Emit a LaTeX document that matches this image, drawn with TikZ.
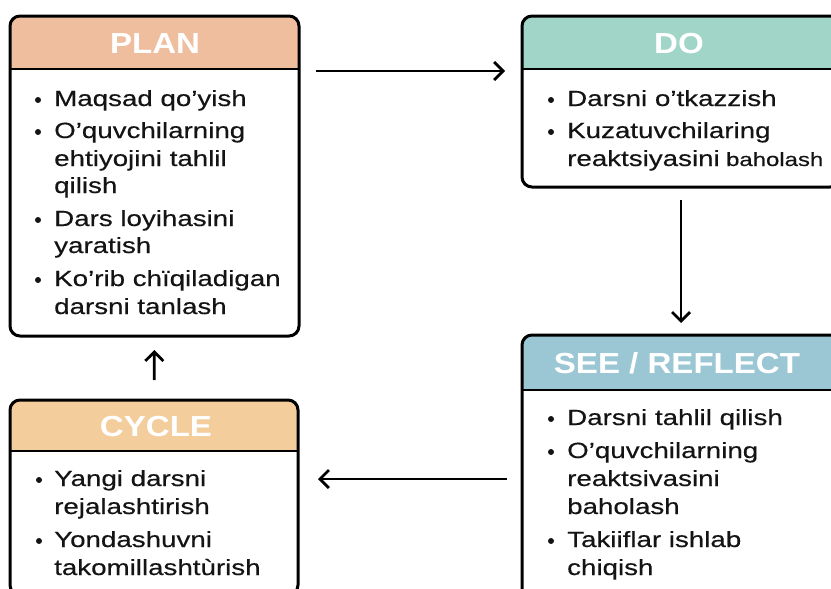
\documentclass[tikz,border=0pt]{standalone}
\usepackage{fontspec}
\setmainfont{Liberation Sans}
\newfontfamily\bodyfont[FakeStretch=1.26,FakeBold=0.4]{Liberation Sans}
\newfontfamily\headfont[FakeStretch=1.14]{Liberation Sans}
\usetikzlibrary{arrows.meta}
\definecolor{planc}{RGB}{239,190,158}
\definecolor{doc}{RGB}{160,213,199}
\definecolor{seec}{RGB}{155,199,213}
\definecolor{cyclec}{RGB}{243,205,156}
\definecolor{inkc}{RGB}{20,20,20}
\tikzset{
  boxst/.style={rectangle, inner sep=0pt, outer sep=0pt, anchor=north west},
  frame/.style={draw=black, line width=3pt, rounded corners=10pt},
  divline/.style={draw=black, line width=2.8pt},
  headtxt/.style={font=\headfont\bfseries\fontsize{29}{29}\selectfont, text=white, anchor=base, inner sep=0pt},
  itemtxt/.style={font=\bodyfont\fontsize{22}{24}\selectfont, text=inkc, anchor=base west, inner sep=0pt},
  smalltxt/.style={font=\bodyfont\fontsize{19}{22}\selectfont, text=inkc, anchor=base west, inner sep=0pt},
  bul/.style={fill=inkc},
  arr/.style={draw=black, line width=2.8pt, -{Straight Barb[length=9pt,width=18pt]}}
}
\begin{document}
\begin{tikzpicture}[x=1pt,y=-1pt]
\useasboundingbox (0,0) rectangle (831,589);
\fill[white] (0,0) rectangle (831,589);
\clip (0,0) rectangle (831,589);

% ---------- PLAN ----------
\node[boxst, minimum width=289pt, minimum height=320pt] (plan) at (10,16) {};
\begin{scope}
  \clip[rounded corners=10pt] (plan.north west) rectangle (plan.south east);
  \fill[planc] (plan.north west) rectangle (plan.east |- 0,69);
\end{scope}
\draw[divline] (plan.west |- 0,69) -- (plan.east |- 0,69);
\draw[frame] (plan.north west) rectangle (plan.south east);
\node[headtxt] (planh) at (155,53) {PLAN};
\fill[bul] (38,100) circle (3pt);
\node[itemtxt] (p1) at (54,106) {Maqsad qo’yish};
\fill[bul] (38,132) circle (3pt);
\node[itemtxt] (p2) at (54,138) {O’quvchilarning};
\node[itemtxt] (p3) at (54,166) {ehtiyojini tahlil};
\node[itemtxt] (p4) at (54,193) {qilish};
\fill[bul] (38,220) circle (3pt);
\node[itemtxt] (p5) at (54,226) {Dars loyihasini};
\node[itemtxt] (p6) at (54,253) {yaratish};
\fill[bul] (38,280) circle (3pt);
\node[itemtxt] (p7) at (54,286) {Ko’rib chïqiladigan};
\node[itemtxt] (p8) at (54,314) {darsni tanlash};

% ---------- DO ----------
\node[boxst, minimum width=318pt, minimum height=171pt] (do) at (522,16) {};
\begin{scope}
  \clip[rounded corners=10pt] (do.north west) rectangle (do.south east);
  \fill[doc] (do.north west) rectangle (do.east |- 0,69);
\end{scope}
\draw[divline] (do.west |- 0,69) -- (do.east |- 0,69);
\draw[frame] (do.north west) rectangle (do.south east);
\node[headtxt] (doh) at (679,53) {DO};
\fill[bul] (551,100) circle (3pt);
\node[itemtxt] (d1) at (567,106) {Darsni o’tkazzish};
\fill[bul] (551,132) circle (3pt);
\node[itemtxt] (d2) at (567,138) {Kuzatuvchilaring};
\node[itemtxt] (d3) at (567,166) {reaktsiyasini};
\node[smalltxt, anchor=base west] (d4) at ([xshift=6pt]d3.base east) {baholash};

% ---------- SEE / REFLECT ----------
\node[boxst, minimum width=318pt, minimum height=290pt] (see) at (522,335) {};
\begin{scope}
  \clip[rounded corners=10pt] (see.north west) rectangle (see.south east);
  \fill[seec] (see.north west) rectangle (see.east |- 0,390);
\end{scope}
\draw[divline] (see.west |- 0,390) -- (see.east |- 0,390);
\draw[frame] (see.north west) rectangle (see.south east);
\node[headtxt] (seeh) at (677,373) {SEE / REFLECT};
\fill[bul] (551,419) circle (3pt);
\node[itemtxt] (s1) at (567,425) {Darsni tahlil qilish};
\fill[bul] (551,452) circle (3pt);
\node[itemtxt] (s2) at (567,458) {O’quvchilarning};
\node[itemtxt] (s3) at (567,486) {reaktsivasini};
\node[itemtxt] (s4) at (567,514) {baholash};
\fill[bul] (551,541) circle (3pt);
\node[itemtxt] (s5) at (567,547) {Takiiflar ishlab};
\node[itemtxt] (s6) at (567,575) {chiqish};

% ---------- CYCLE ----------
\node[boxst, minimum width=288pt, minimum height=195pt] (cycle) at (10,400) {};
\begin{scope}
  \clip[rounded corners=10pt] (cycle.north west) rectangle (cycle.south east);
  \fill[cyclec] (cycle.north west) rectangle (cycle.east |- 0,451);
\end{scope}
\draw[divline] (cycle.west |- 0,451) -- (cycle.east |- 0,451);
\draw[frame] (cycle.north west) rectangle (cycle.south east);
\node[headtxt] (cycleh) at (156,436) {CYCLE};
\fill[bul] (39,480) circle (3pt);
\node[itemtxt] (c1) at (54,486) {Yangi darsni};
\node[itemtxt] (c2) at (54,514) {rejalashtirish};
\fill[bul] (39,541) circle (3pt);
\node[itemtxt] (c3) at (54,547) {Yondashuvni};
\node[itemtxt] (c4) at (54,575) {takomillashtùrish};

% ---------- arrows ----------
\draw[arr, shorten <=17pt, shorten >=17pt] (plan.east |- 0,71) -- (do.west |- 0,71);
\draw[arr, shorten <=13pt, shorten >=12pt] (do.south) -- (see.north);
\draw[arr, shorten <=15pt, shorten >=20pt] (see.west |- 0,479) -- (cycle.east |- 0,479);
\draw[arr, shorten <=20pt, shorten >=14pt] (cycle.north) -- (plan.south);
\end{tikzpicture}
\end{document}
